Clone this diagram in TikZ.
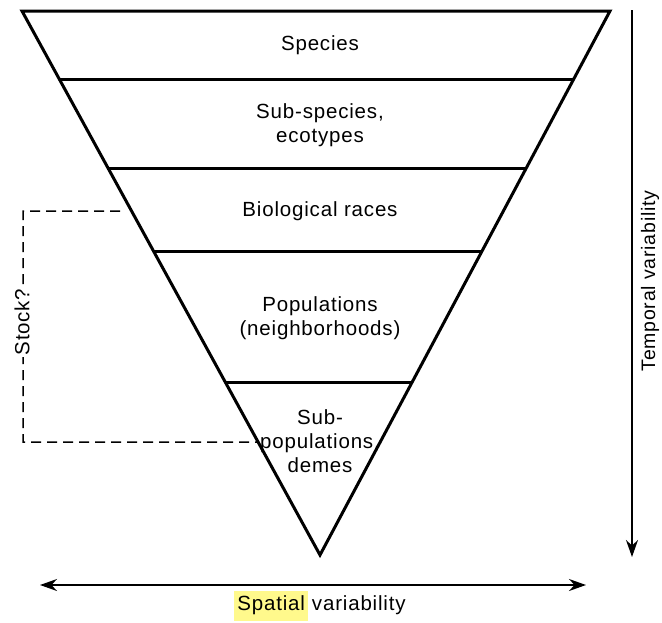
\documentclass[tikz,border=0pt]{standalone}
\usepackage{fontspec}
\setmainfont{Liberation Sans}[LetterSpace=4]
\usetikzlibrary{calc,arrows.meta}
\begin{document}
\begin{tikzpicture}[x=1pt,y=-1pt,
  lbl/.style={font=\fontsize{20.5}{24}\selectfont, align=center, inner sep=1pt},
  tri/.style={line width=3pt, line join=miter},
  band/.style={line width=3pt},
  brk/.style={line width=1.5pt, dash pattern=on 10pt off 6pt},
  axis/.style={line width=1.6pt, -{Stealth[length=17pt,width=12pt]}},
  axis2/.style={line width=1.6pt, {Stealth[length=17pt,width=12pt]}-{Stealth[length=17pt,width=12pt]}}]
\useasboundingbox (0,0) rectangle (662,622);
\coordinate (TL) at (22,11);
\coordinate (TR) at (610,11);
\coordinate (A) at (320,555);
\draw[tri] (TL) -- (TR) -- (A) -- cycle;
\foreach \t/\n in {0.1268/a,0.2886/b,0.443/c,0.6838/d}{
  \coordinate (L\n) at ($(TL)!\t!(A)$);
  \coordinate (R\n) at ($(TR)!\t!(A)$);
  \draw[band] (L\n) -- (R\n);
}
\node[lbl] (sp) at (320,45) {Species};
\node[lbl] (ss) at (320,125) {Sub-species,\\ecotypes};
\node[lbl] (br) at (320,211) {Biological races};
\node[lbl] (po) at (320,318) {Populations\\(neighborhoods)};
\node[lbl] (sub) at (320,441) {Sub-\\populations,\\demes};
% Stock bracket
\coordinate (s1) at (120,211);
\coordinate (s2) at (23,211);
\coordinate (s3) at (23,442);
\coordinate (s4) at ($(TL)!0.7923!(A)$);
\draw[brk] (s1) -- (s2) -- (s3) -- (s4);
\node[lbl, fill=white, rotate=90, inner sep=2pt] (st) at (22,322) {Stock?};
% Temporal axis
\coordinate (t1) at (632,10);
\coordinate (t2) at (632,557);
\draw[axis] (t1) -- (t2);
\node[lbl, rotate=90, font=\fontsize{19.5}{23}\selectfont] (tv) at (650,281) {Temporal variability};
% Spatial axis
\coordinate (h1) at (40,585);
\coordinate (h2) at (586,585);
\draw[axis2] (h1) -- (h2);
\node[lbl] (sv) at (320,606) {\colorbox{yellow!45}{\strut Spatial}\hspace{4pt}variability};
\end{tikzpicture}
\end{document}
